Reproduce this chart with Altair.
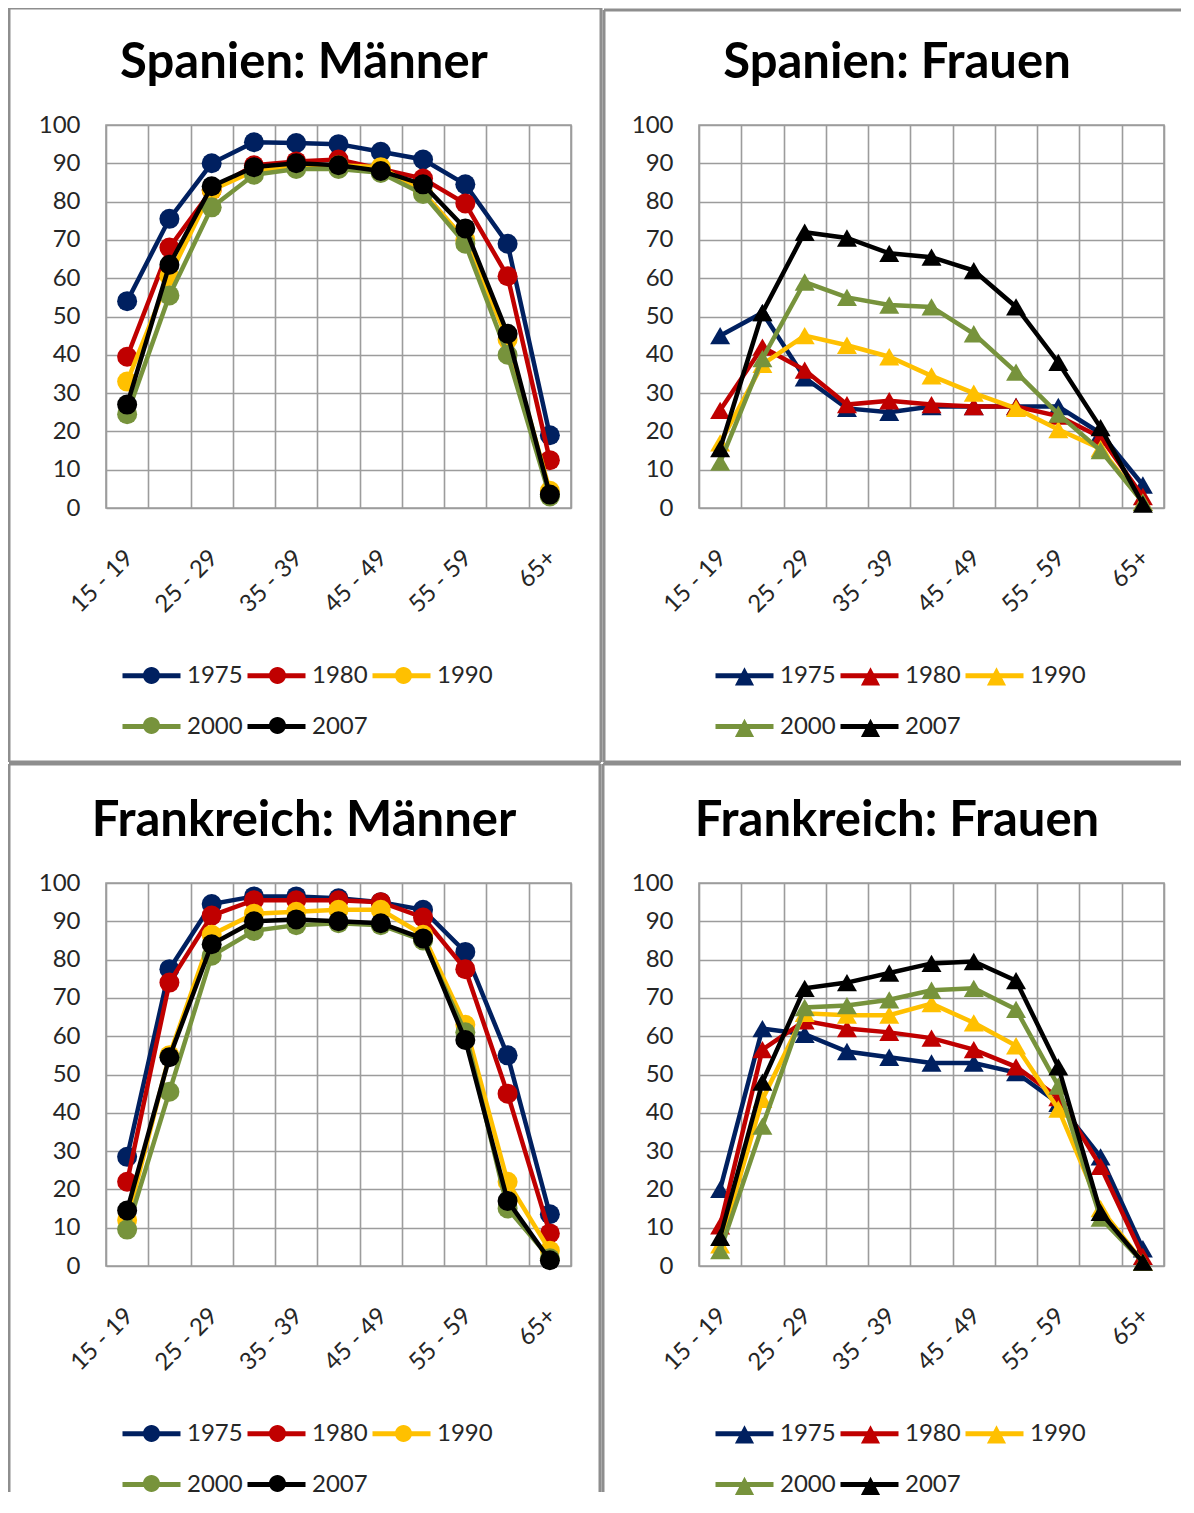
import altair as alt
import pandas as pd

# ---------------- data ----------------
ages = ["15 - 19", "20 - 24", "25 - 29", "30 - 34", "35 - 39", "40 - 44",
        "45 - 49", "50 - 54", "55 - 59", "60 - 64", "65+"]
shown_ages = ages[::2]
years = ["1975", "1980", "1990", "2000", "2007"]
colors = ["#002060", "#C00000", "#FFC000", "#77933C", "#000000"]

es_m_1975 = [54, 75.5, 90, 95.5, 95.3, 95, 93, 91, 84.5, 69, 19]
es_m_1980 = [39.5, 68, 83, 89.5, 90.5, 91, 88.5, 86, 79.5, 60.5, 12.5]
es_m_1990 = [33, 60.5, 83, 88, 89.5, 89.5, 89, 82.5, 70, 44, 4.5]
es_m_2000 = [24.5, 55.5, 78.5, 87, 88.5, 88.5, 87.5, 82, 69, 40, 3]
es_m_2007 = [27, 63.5, 84, 89, 90, 89.5, 88, 84.5, 73, 45.5, 3.5]

es_f_1975 = [45, 51, 34, 26, 25, 26.5, 26.5, 26.5, 26.5, 19.5, 6]
es_f_1980 = [25.5, 42, 36, 27, 28, 27, 26.5, 26.5, 24, 18.5, 3]
es_f_1990 = [17, 37.5, 45, 42.5, 39.5, 34.5, 30, 26, 20.5, 15.5, 1.5]
es_f_2000 = [12, 39, 59, 55, 53, 52.5, 45.5, 35.5, 24.5, 15, 1.5]
es_f_2007 = [15.5, 51, 72, 70.5, 66.5, 65.5, 62, 52.5, 38, 21, 1]

fr_m_1975 = [28.5, 77.5, 94.5, 96.5, 96.5, 96, 95, 93, 82, 55, 13.5]
fr_m_1980 = [22, 74, 91.5, 95.5, 95.5, 95.5, 95, 91, 77.5, 45, 8.5]
fr_m_1990 = [12, 55, 86.5, 92, 92.5, 93, 93, 86.5, 63, 22, 4]
fr_m_2000 = [9.5, 45.5, 81, 87.5, 89, 89.5, 89, 85, 61, 15, 2]
fr_m_2007 = [14.5, 54.5, 84, 90, 90.5, 90, 89.5, 85.5, 59, 17, 1.5]

fr_f_1975 = [20, 62, 60.5, 56, 54.5, 53, 53, 50.5, 42.5, 28.5, 4.5]
fr_f_1980 = [10.5, 56.5, 64, 62, 61, 59.5, 56.5, 52, 44, 26, 2.5]
fr_f_1990 = [5.5, 43.5, 66, 65.5, 65.5, 68.5, 63.5, 57.5, 41, 15, 1]
fr_f_2000 = [4, 36.5, 67.5, 68, 69.5, 72, 72.5, 67, 47, 12.5, 1]
fr_f_2007 = [7.5, 48, 72.5, 74, 76.5, 79, 79.5, 74.5, 52, 14, 1]

titles = ["Spanien: Männer", "Spanien: Frauen", "Frankreich: Männer", "Frankreich: Frauen"]

# ---------------- styling ----------------
GRID = "#9c9c9c"
FRAME = "#8e8e8e"
TEXT = "#262626"
FONT = "Lato"
W, H = 465, 383

LINE_PATH = "M-1,0L1,0"
CIRCLE_PATH = "M-1,0L1,0M-0.293,0A0.293,0.293,0,1,0,0.293,0A0.293,0.293,0,1,0,-0.293,0Z"
TRI_PATH = "M-1,0L1,0M0,-0.3L0.33,0.33L-0.33,0.33Z"

label_expr = ("indexof([" + ",".join("'%s'" % a for a in shown_ages) +
              "], datum.value) >= 0 ? datum.label : ''")


def make_df(series):
    rows = []
    for yr, vals in zip(years, series):
        for a, v in zip(ages, vals):
            rows.append({"age": a, "year": yr, "year_marker": yr, "value": v})
    return pd.DataFrame(rows)


LINE_LEGEND = alt.Legend(
    orient="none", legendX=14, legendY=519, direction="horizontal", columns=3,
    title=None, symbolType=LINE_PATH, symbolSize=58 * 58, symbolStrokeWidth=5,
    labelFontSize=24, labelFont=FONT, labelColor=TEXT, labelOffset=4,
    columnPadding=-6, rowPadding=7, padding=0, symbolOpacity=1)


def marker_legend(path):
    # marker-only legend (no labels) laid over the line legend
    return alt.Legend(
        orient="none", legendX=14, legendY=519, direction="horizontal", columns=3,
        title=None, symbolType=path, symbolSize=58 * 58, symbolStrokeWidth=5,
        symbolStrokeColor="transparent", labelExpr="''", labelFontSize=24,
        labelOffset=4, columnPadding=47, rowPadding=0, padding=0, symbolOpacity=1)


def frame_rule(x1, y1, x2, y2):
    return alt.Chart(pd.DataFrame({"k": [0]})).mark_rule(
        color=FRAME, strokeWidth=3).encode(
        x=alt.value(x1), y=alt.value(y1), x2=alt.value(x2), y2=alt.value(y2))


def panel(title, series, shape, sym_path, edges):
    df = make_df(series)
    base = alt.Chart(df)
    x = alt.X("age:N", sort=ages, bandPosition=0.5, title=None,
              scale=alt.Scale(type="band", domain=ages, paddingInner=0, paddingOuter=0),
              axis=alt.Axis(tickBand="extent", grid=True, ticks=False, domain=False,
                            labelAngle=-45, labelAlign="right", labelBaseline="middle",
                            labelPadding=46, labelOffset=2, labelExpr=label_expr,
                            labelOverlap=False))
    y = alt.Y("value:Q", title=None,
              scale=alt.Scale(domain=[0, 100], nice=False, zero=True),
              axis=alt.Axis(values=list(range(0, 101, 10)), grid=True, ticks=False,
                            domain=False, labelPadding=26))
    color = alt.Color("year:N", scale=alt.Scale(domain=years, range=colors),
                      legend=LINE_LEGEND)
    # marker legend: separate field and data-derived domain so it is not merged
    fill = alt.Fill("year_marker:N", scale=alt.Scale(range=colors),
                    legend=marker_legend(sym_path))
    layers = [frame_rule(*e) for e in edges]
    title_layer = alt.Chart(pd.DataFrame({"t": [title]})).mark_text(
        font=FONT, fontSize=49, fontWeight="bold", color="black",
        align="center", baseline="alphabetic").encode(
        x=alt.value(198), y=alt.value(-47), text="t:N")
    layers.append(title_layer)
    for yr in years:
        f = base.transform_filter(alt.datum.year == yr)
        layers.append(f.mark_line(strokeWidth=4.5).encode(x=x, y=y, color=color))
        layers.append(f.mark_point(filled=True, shape=shape, size=400, opacity=1,
                                   strokeWidth=0).encode(x=x, y=y, fill=fill))
    return alt.layer(*layers).properties(width=W, height=H)


p1 = panel(titles[0], [es_m_1975, es_m_1980, es_m_1990, es_m_2000, es_m_2007],
           "circle", CIRCLE_PATH,
           [(-97, -117, 495, -117), (-97, -117, -97, 637), (495, -117, 495, 637),
            (-97, 637, 495, 637)])
p2 = panel(titles[1], [es_f_1975, es_f_1980, es_f_1990, es_f_2000, es_f_2007],
           "triangle-up", TRI_PATH,
           [(-95, -115, 482, -115), (-95, -115, -95, 637), (-95, 637, 482, 637)])
p3 = panel(titles[2], [fr_m_1975, fr_m_1980, fr_m_1990, fr_m_2000, fr_m_2007],
           "circle", CIRCLE_PATH,
           [(-97, -119, 494, -119), (-97, -119, -97, 609), (494, -119, 494, 609)])
p4 = panel(titles[3], [fr_f_1975, fr_f_1980, fr_f_1990, fr_f_2000, fr_f_2007],
           "triangle-up", TRI_PATH,
           [(-96, -119, 482, -119), (-96, -119, -96, 609)])

chart = alt.concat(p1, p2, p3, p4, columns=2,
                   spacing={"row": 375, "column": 128}, bounds="flush").resolve_scale(
    color="independent", fill="independent").resolve_legend(
    color="independent", fill="independent").properties(
    padding={"left": -2, "top": -3, "right": 0, "bottom": 0}).configure_view(
    stroke=GRID, strokeWidth=1.6).configure_axis(
    gridColor=GRID, gridWidth=1.6, labelFont=FONT, labelFontSize=24,
    labelColor=TEXT)

chart.save("out.html", embed_options={"renderer": "svg", "actions": False})
